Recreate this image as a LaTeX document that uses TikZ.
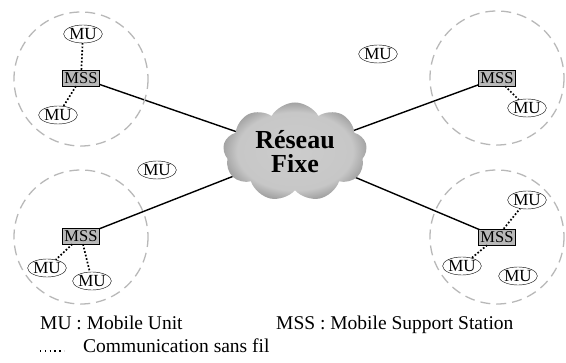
\documentclass[tikz,border=0pt]{standalone}
\usepackage{fontspec}
\setmainfont{Liberation Serif}
\usetikzlibrary{shapes.geometric,shapes.symbols,backgrounds}

\pgfdeclareradialshading{cloudshade}{\pgfpoint{0bp}{0bp}}{color(0bp)=(black!20); color(20bp)=(black!22); color(28bp)=(black!45); color(34bp)=(black!85); color(38bp)=(black); color(50bp)=(black)}

\tikzset{
  mu/.style={draw, ellipse, inner sep=0pt, minimum width=38pt, minimum height=18pt, font=\fontsize{17}{17}\selectfont},
  mss/.style={draw, fill=black!28, inner xsep=2pt, inner ysep=2.5pt, text height=11pt, text depth=0pt, font=\fontsize{16.5}{16.5}\selectfont},
  cell/.style={draw=black!28, line width=1.3pt, dash pattern=on 10pt off 6pt},
  radio/.style={line width=1.7pt, dash pattern=on 1.7pt off 1.9pt},
  fixe/.style={line width=1.4pt},
  legende/.style={anchor=base west, inner sep=0pt, font=\fontsize{19.5}{19.5}\selectfont}
}

\begin{document}
\begin{tikzpicture}[x=1pt,y=-1pt]
    \useasboundingbox (0,0) rectangle (566,363);

    % cellules
    \draw[cell] (81,79) circle (67);
    \draw[cell] (497,78) circle (67);
    \draw[cell] (81,237) circle (67);
    \draw[cell] (497,237) circle (67);

    % reseau fixe
    \node[cloud, cloud puffs=9, cloud puff arc=120, aspect=1.45, inner sep=0pt, minimum width=144pt, minimum height=99pt, shading=cloudshade, align=center, font=\bfseries\fontsize{26}{24}\selectfont] (reseau) at (295,152) {Réseau\\Fixe};

    % stations
    \node[mss] (mss1) at (81,78) {MSS};
    \node[mss] (mss2) at (497,78) {MSS};
    \node[mss] (mss3) at (81,236) {MSS};
    \node[mss] (mss4) at (497,237) {MSS};

    % unites mobiles
    \node[mu] (mu1) at (83,34) {MU};
    \node[mu] (mu2) at (58,115) {MU};
    \node[mu] (mu3) at (378,54) {MU};
    \node[mu] (mu4) at (527,108) {MU};
    \node[mu] (mu5) at (157,170) {MU};
    \node[mu] (mu6) at (47,268) {MU};
    \node[mu] (mu7) at (92,281) {MU};
    \node[mu] (mu8) at (527,200) {MU};
    \node[mu] (mu9) at (462,266) {MU};
    \node[mu] (mu10) at (518,276) {MU};

    \begin{scope}[on background layer]
        \draw[fixe] (mss1.center)--(reseau.center);
        \draw[fixe] (mss2.center)--(reseau.center);
        \draw[fixe] (mss3.center)--(reseau.center);
        \draw[fixe] (mss4.center)--(reseau.center);
    \end{scope}

    \draw[radio] (mss1)--(mu1);
    \draw[radio] (mss1)--(mu2);
    \draw[radio] (mss2)--(mu4);
    \draw[radio] (mss3)--(mu6);
    \draw[radio] (mss3)--(mu7);
    \draw[radio] (mss4)--(mu8);
    \draw[radio] (mss4)--(mu9);

    % legende
    \node[legende] (lmu) at (40,330) {MU : Mobile Unit};
    \node[legende] (lmss) at (276,330) {MSS : Mobile Support Station};
    \coordinate (ld1) at (40,351);
    \coordinate (ld2) at (64,351);
    \draw[line width=1.4pt, dash pattern=on 1.4pt off 3.4pt] (ld1)--(ld2);
    \node[legende] (lcom) at (83,353) {Communication sans fil};
\end{tikzpicture}
\end{document}
